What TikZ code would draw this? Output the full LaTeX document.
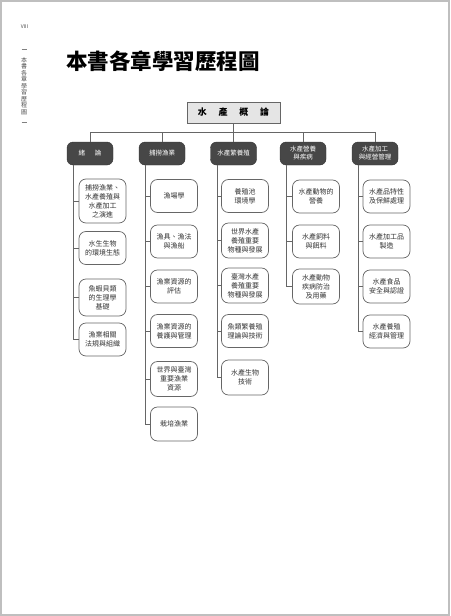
\documentclass[tikz,border=0pt]{standalone}
\usepackage{fontspec}
\setmainfont{Noto Sans CJK TC}

\begin{document}
\begin{tikzpicture}[x=1pt,y=-1pt,
  root/.style={draw=black!60,fill=black!10,line width=0.8pt,minimum width=93,minimum height=21,inner sep=0pt,font=\fontsize{9}{10}\selectfont\bfseries},
  chap/.style={draw=black!80,fill=black!72,rounded corners=6pt,text=white,minimum width=46,minimum height=23,inner sep=1pt,align=center,font=\fontsize{6.5}{8}\selectfont},
  topic/.style={draw=black!60,fill=white,line width=0.7pt,rounded corners=7pt,text=black!80,minimum width=47,inner sep=1pt,align=center,font=\fontsize{7}{9}\selectfont},
  link/.style={draw=black!60,line width=0.7pt}]
\useasboundingbox (0,0) rectangle (450,616);
\fill[white] (0,0) rectangle (450,616);
\draw[black!25,line width=2pt] (1,1) rectangle (449,615);

% page head
\node[font=\fontsize{5}{5}\selectfont,text=black!70] (folio) at (24.5,27) {VIII};
\draw[black!50,line width=0.5pt] (21.5,49) -- (26.5,49);
\node[align=center,inner sep=0pt,text=black!70,font=\fontsize{6}{6.5}\selectfont] (side) at (24,86)
  {本\\書\\各\\章\\學\\習\\歷\\程\\圖};
\draw[black!50,line width=0.5pt] (21.5,122) -- (26.5,122);
\node[anchor=west,inner sep=0pt,font=\fontsize{21.5}{22}\selectfont\bfseries] (title) at (66,61) {本書各章學習歷程圖};

% chart
\node[root] (root) at (233.5,112.5) {水\hspace{1.3em}產\hspace{1.3em}概\hspace{1.3em}論};
\node[chap] (ch1) at (90,153.5) {緒\hspace{1.5em}論};
\node[chap] (ch2) at (162,153.5) {捕撈漁業};
\node[chap] (ch3) at (233.5,153.5) {水產繁養殖};
\node[chap] (ch4) at (303,153.5) {水產營養\\與疾病};
\node[chap] (ch5) at (375,153.5) {水產加工\\與經營管理};

\node[topic,minimum height=44] (c1a) at (102.5,201) {捕撈漁業、\\水產養殖與\\水產加工\\之演進};
\node[topic,minimum height=33] (c1b) at (102.5,248) {水生生物\\的環境生態};
\node[topic,minimum height=37] (c1c) at (102.5,297.5) {魚蝦貝類\\的生理學\\基礎};
\node[topic,minimum height=33] (c1d) at (102.5,339.5) {漁業相關\\法規與組織};

\node[topic,minimum height=33] (c2a) at (174,196) {漁場學};
\node[topic,minimum height=33] (c2b) at (174,241.5) {漁具、漁法\\與漁船};
\node[topic,minimum height=33] (c2c) at (174,286.5) {漁業資源的\\評估};
\node[topic,minimum height=33] (c2d) at (174,331) {漁業資源的\\養護與管理};
\node[topic,minimum height=35] (c2e) at (174,379) {世界與臺灣\\重要漁業\\資源};
\node[topic,minimum height=34] (c2f) at (174,424) {栽培漁業};

\node[topic,minimum height=33] (c3a) at (245,196) {養殖池\\環境學};
\node[topic,minimum height=35] (c3b) at (245,240.5) {世界水產\\養殖重要\\物種與發展};
\node[topic,minimum height=35] (c3c) at (245,285.5) {臺灣水產\\養殖重要\\物種與發展};
\node[topic,minimum height=33] (c3d) at (245,331) {魚類繁養殖\\理論與技術};
\node[topic,minimum height=35] (c3e) at (245,377.5) {水產生物\\技術};

\node[topic,minimum height=33] (c4a) at (316,196.5) {水產動物的\\營養};
\node[topic,minimum height=33] (c4b) at (316,241.5) {水產飼料\\與餌料};
\node[topic,minimum height=35] (c4c) at (316,286.5) {水產動物\\疾病防治\\及用藥};

\node[topic,minimum height=33] (c5a) at (386.5,196.5) {水產品特性\\及保鮮處理};
\node[topic,minimum height=33] (c5b) at (386.5,241.5) {水產加工品\\製造};
\node[topic,minimum height=33] (c5c) at (386.5,286.5) {水產食品\\安全與認證};
\node[topic,minimum height=33] (c5d) at (386.5,331.5) {水產養殖\\經濟與管理};

% connectors
\foreach \c in {1,...,5}
  \draw[link] (root.south) -- ++(0,8.5) -| (ch\c.north);
\foreach \t in {c1a,c1b,c1c,c1d}
  \draw[link] ([xshift=7pt]ch1.south west) |- (\t.west);
\foreach \t in {c2a,c2b,c2c,c2d,c2e,c2f}
  \draw[link] ([xshift=7pt]ch2.south west) |- (\t.west);
\foreach \t in {c3a,c3b,c3c,c3d,c3e}
  \draw[link] ([xshift=7pt]ch3.south west) |- (\t.west);
\foreach \t in {c4a,c4b,c4c}
  \draw[link] ([xshift=7pt]ch4.south west) |- (\t.west);
\foreach \t in {c5a,c5b,c5c,c5d}
  \draw[link] ([xshift=7pt]ch5.south west) |- (\t.west);
\end{tikzpicture}
\end{document}
